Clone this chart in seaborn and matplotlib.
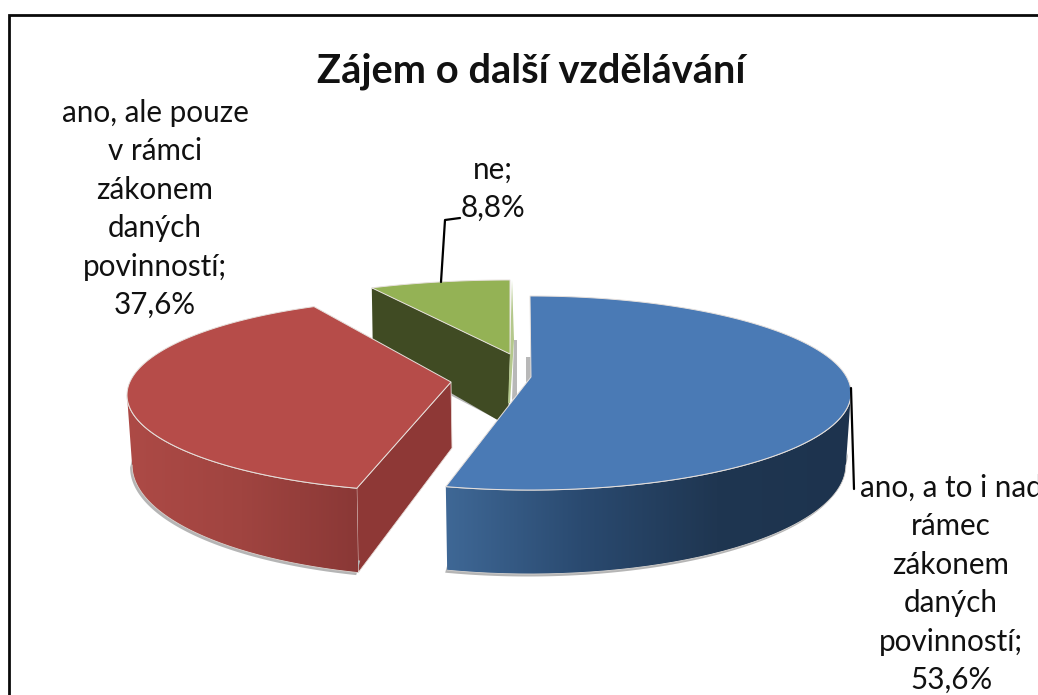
import numpy as np
import matplotlib
matplotlib.use("Agg")
import matplotlib.pyplot as plt
from matplotlib.patches import Polygon
import seaborn as sns

title = "Zájem o další vzdělávání"
categories = ["ano, a to i nad\nrámec\nzákonem\ndaných\npovinností",
              "ano, ale pouze\nv rámci\nzákonem\ndaných\npovinností",
              "ne"]
values = [53.6, 37.6, 8.8]

top_colors = ["#4a7ab5", "#b64c49", "#94b255"]
blue_side = ["#3f6896", "#2a4a70", "#1f3651", "#1d334e"]
red_side = ["#ad4a46", "#a04440", "#8a3836"]
red_wall = "#8e3836"
green_wall = "#404b23"
green_edge = "#b4c88c"

sns.set_theme(style="white")
plt.rcParams["font.family"] = ["Lato", "DejaVu Sans"]

fig = plt.figure(figsize=(10.38, 6.95), dpi=100, facecolor="white")
ax = fig.add_axes([0, 0, 1, 1])
ax.axis("off")

# chart frame
ax.plot([9, 9, 1038], [695, 15, 15], color="#0a0a0a", lw=2.0, solid_joinstyle="miter", zorder=1)

fractions = np.array(values) / sum(values) * 2 * np.pi
edges = np.concatenate([[0], np.cumsum(fractions)])


def warp(th, g):
    # perspective: slice angles appear pulled towards the far side of the pie
    return th - np.radians(g["w"]) * np.sin(th)


def rim(phi, g):
    return g["cx"] + g["rx"] * np.sin(phi), g["cy"] - g["ry"] * np.cos(phi)


def drop(phi, x, g):
    d = g["d0"] - g["d1"] * np.cos(phi)
    return g["cx"] + (x - g["cx"]) * 0.984, d


blue = dict(cx=530, cy=393, rx=321, ry=97, w=10, ax=531, ay=377, d0=72, d1=12)
red = dict(cx=445, cy=395, rx=318, ry=97, w=14, ax=451, ay=382, d0=70, d1=15)
green = dict(cx=510, cy=360, rx=320, ry=80, w=11.6, ax=510, ay=354, d0=60, d1=10)


def top(i, g, z):
    phi = np.linspace(warp(edges[i], g), warp(edges[i + 1], g), 160)
    x, y = rim(phi, g)
    pts = np.vstack([[g["ax"], g["ay"]], np.c_[x, y]])
    ax.add_patch(Polygon(pts, closed=True, fc=top_colors[i], ec="#e6e0dc", lw=0.7, zorder=z))


def side(phi0, phi1, g, cols, z):
    phi = np.linspace(phi0, phi1, 160)
    x, y = rim(phi, g)
    bx, d = drop(phi, x, g)
    by = y + d
    ax.fill(np.r_[bx - 2, bx[::-1] + 2], np.r_[by + 2.5, by[::-1] - 12],
            color="#b5b5b5", lw=0, zorder=z - 0.1)
    outline = np.vstack([np.c_[x, y], np.c_[bx, by][::-1]])
    patch = Polygon(outline, closed=True, fc="none", ec="none", transform=ax.transData)
    ax.add_patch(patch)
    pal = np.array(sns.blend_palette(cols, 256))[None, :, :]
    im = ax.imshow(pal, extent=[x.min() - 1, x.max() + 1, by.max() + 1, y.min() - 1],
                   aspect="auto", zorder=z, interpolation="bilinear")
    im.set_clip_path(patch)
    ax.plot(x, y, color="#e6e0dc", lw=0.8, zorder=z + 0.05)
    ax.plot(bx, by, color="#d8d4d0", lw=0.6, zorder=z + 0.05)


# --- green slice (back)
ax.fill([514, 517, 517, 512], [340, 340, 396, 400], color="#b8b8b8", lw=0, zorder=2)
ax.fill([526, 532, 532, 526], [357, 357, 380, 382], color="#b8b8b8", lw=0, zorder=2)
gth = warp(edges[2], green)
gx, gy = rim(gth, green)
ax.fill([gx, green["ax"], green["ax"] - 2, gx + 1],
        [gy, green["ay"], green["ay"] + 72, gy + 60],
        color=green_wall, lw=0, zorder=3)
ax.fill([gx + 78, green["ax"] - 12, green["ax"] - 12, gx + 78],
        [gy + 103, gy + 128, gy + 132, gy + 107], color="#b8b8b8", lw=0, zorder=2.9)
top(2, green, 4)
ax.fill([512, 514, 510, 508, 510], [280, 340, 403, 403, 354], color=green_edge, lw=0, zorder=3.5)

# --- red slice
rth = warp(edges[1], red)
rx0, ry0 = rim(rth, red)
rbx, rd = drop(rth, rx0, red)
ax.add_patch(Polygon([(red["ax"], red["ay"]), (rx0, ry0), (rbx, ry0 + rd),
                      (red["ax"] + 1, red["ay"] + 66)],
                     closed=True, fc=red_wall, ec="#e6d8d4", lw=0.6, zorder=5))
side(1.5 * np.pi, rth, red, red_side, 5.2)
top(1, red, 6)

# --- blue slice (front)
side(warp(edges[1], blue), 0.5 * np.pi, blue, blue_side, 7)
top(0, blue, 8)

# --- leaders
ax.plot([441, 445, 460], [282, 220, 218], color="black", lw=1.6, zorder=9)
ax.plot([851, 854], [388, 489], color="black", lw=1.6, zorder=9)


def label(i):
    return categories[i] + ";\n" + f"{values[i]:.1f}".replace(".", ",") + "%"


txt = dict(fontsize=21.3, color="#111111", ha="center", va="center", linespacing=1.45, zorder=10)
ax.text(951, 584, label(0), clip_on=True, **txt)
ax.text(155, 209, label(1), **txt)
ax.text(493, 189, label(2), **txt)
ax.text(531, 71, title, fontsize=28.7, fontweight="bold", color="#111111", ha="center", va="center", zorder=10)

ax.set_xlim(0, 1038)
ax.set_ylim(695, 0)
fig.savefig("out.png", dpi=100, facecolor="white")
